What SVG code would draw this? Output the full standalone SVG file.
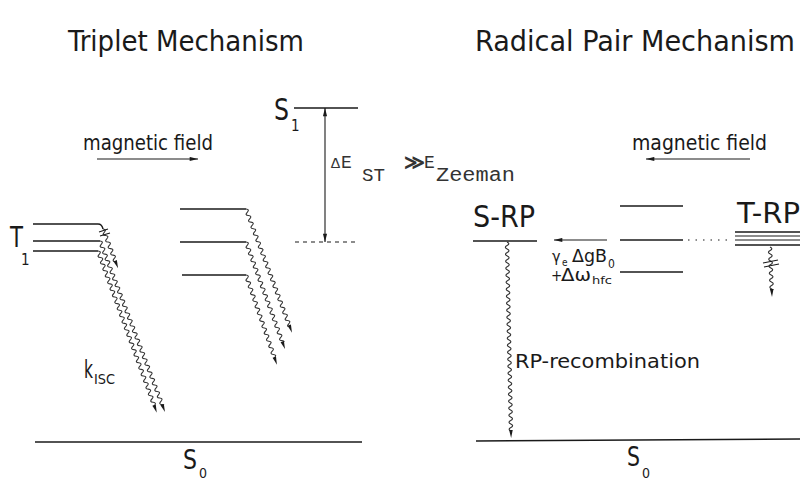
<svg xmlns="http://www.w3.org/2000/svg" xmlns:xlink="http://www.w3.org/1999/xlink" width="800" height="483" viewBox="0 0 800 483">
<style>
.bg{fill:#fff}
.lv{stroke:#1a1a1a;stroke-width:1.4;fill:none}
.ln{stroke:#1a1a1a;stroke-width:1.1;fill:none}
.wv{stroke:#333;stroke-width:1.1;fill:none}
.tip{fill:#1a1a1a}
.t{font-family:"DejaVu Sans Condensed","DejaVu Sans","Liberation Sans",sans-serif;fill:#1a1a1a}
.m{font-family:"Liberation Mono","DejaVu Sans Mono",monospace;fill:#333}
</style>
<defs>
<path id="wave" d="M0,0 q3.6,1.75 0,3.5 t0,3.5 0,3.5 0,3.5 0,3.5 0,3.5 0,3.5 0,3.5 0,3.5 0,3.5 0,3.5 0,3.5 0,3.5 0,3.5 0,3.5 0,3.5 0,3.5 0,3.5 0,3.5 0,3.5 0,3.5 0,3.5 0,3.5 0,3.5 0,3.5 0,3.5 0,3.5 0,3.5 0,3.5 0,3.5 0,3.5 0,3.5 0,3.5 0,3.5 0,3.5 0,3.5 0,3.5 0,3.5 0,3.5 0,3.5 0,3.5 0,3.5 0,3.5 0,3.5 0,3.5 0,3.5 0,3.5 0,3.5 0,3.5 0,3.5 0,3.5 0,3.5 0,3.5 0,3.5 0,3.5 0,3.5 0,3.5 0,3.5 0,3.5 0,3.5 0,3.5"/>
<path id="tip" d="M0,0 L-1.8,-8 L1.8,-8 Z"/>
<clipPath id="c42"><rect x="-6" y="-1" width="12" height="36"/></clipPath>
<clipPath id="c50"><rect x="-6" y="-1" width="12" height="44"/></clipPath>
<clipPath id="c95"><rect x="-6" y="-1" width="12" height="89"/></clipPath>
<clipPath id="c114"><rect x="-6" y="-1" width="12" height="108"/></clipPath>
<clipPath id="c132"><rect x="-6" y="-1" width="12" height="126"/></clipPath>
<clipPath id="c172"><rect x="-6" y="-1" width="12" height="166"/></clipPath>
<clipPath id="c183"><rect x="-6" y="-1" width="12" height="177"/></clipPath>
<clipPath id="c196"><rect x="-6" y="-1" width="12" height="190"/></clipPath>
<marker id="ar" viewBox="0 0 10 6" refX="10" refY="3" markerWidth="9" markerHeight="5" orient="auto-start-reverse" markerUnits="userSpaceOnUse"><path d="M0,0.5 L10,3 L0,5.5 Z" fill="#1a1a1a"/></marker>
</defs>
<rect class="bg" x="0" y="0" width="800" height="483"/>

<g id="titles">
<text class="t" x="68" y="51" font-size="28" textLength="236" lengthAdjust="spacingAndGlyphs">Triplet Mechanism</text>
<text class="t" x="475" y="51" font-size="28" textLength="320" lengthAdjust="spacingAndGlyphs">Radical Pair Mechanism</text>
</g>

<g id="field-left">
<text class="t" x="83" y="150" font-size="21" textLength="130" lengthAdjust="spacingAndGlyphs">magnetic field</text>
<line class="ln" x1="97" y1="159" x2="198" y2="159" marker-end="url(#ar)"/>
</g>
<g id="field-right">
<text class="t" x="632" y="150" font-size="21" textLength="135" lengthAdjust="spacingAndGlyphs">magnetic field</text>
<line class="ln" x1="750" y1="159" x2="646" y2="159" marker-end="url(#ar)"/>
</g>

<g id="T1">
<text class="t" x="10" y="247" font-size="29" textLength="13" lengthAdjust="spacingAndGlyphs">T</text>
<text class="t" x="21" y="265" font-size="15">1</text>
<path class="lv" d="M33,224 H98 q4,0 5,5"/>
<path class="lv" d="M33,241 H100"/>
<path class="lv" d="M33,251 H98"/>
</g>

<g id="triplet-mid">
<path class="lv" d="M180,209 H246"/>
<path class="lv" d="M180,242 H246"/>
<path class="lv" d="M182,275 H246"/>
</g>

<g id="S1">
<text class="t" x="274" y="120" font-size="30" textLength="15" lengthAdjust="spacingAndGlyphs">S</text>
<text class="t" x="291" y="131" font-size="15">1</text>
<path class="lv" d="M294,108 H358"/>
<path class="ln" d="M295,242 H358" stroke-dasharray="4 4"/>
</g>

<g id="S0-left">
<path class="lv" d="M35,442 H362"/>
<text class="t" x="183" y="469" font-size="26" textLength="14" lengthAdjust="spacingAndGlyphs">S</text>
<text class="t" x="199" y="478" font-size="14">0</text>
</g>

<g id="kisc">
<text class="t" x="84" y="378" font-size="24" textLength="9" lengthAdjust="spacingAndGlyphs">k</text>
<text class="t" x="94" y="384" font-size="14" textLength="21" lengthAdjust="spacingAndGlyphs">ISC</text>
</g>

<g id="gap-label">
<text class="m" x="331" y="168" font-size="15">Δ</text>
<text class="m" x="341" y="168" font-size="18">E</text>
<text class="m" x="362" y="181" font-size="19" textLength="23" lengthAdjust="spacingAndGlyphs">ST</text>
<text class="m" x="404" y="169" font-size="20" font-weight="bold">≫</text>
<text class="m" x="424" y="168" font-size="18">E</text>
<text class="m" x="436" y="181" font-size="20" textLength="79" lengthAdjust="spacingAndGlyphs">Zeeman</text>
</g>

<g id="SRP">
<text class="t" x="473" y="227" font-size="30" textLength="62" lengthAdjust="spacingAndGlyphs">S-RP</text>
<path class="lv" d="M473,241 H537"/>
</g>

<g id="rp-mid">
<path class="lv" d="M620,206 H683"/>
<path class="lv" d="M620,240 H683"/>
<path class="lv" d="M620,272 H683"/>
<path class="ln" d="M688,240 H732" stroke-dasharray="1.5 6"/>
<line class="ln" x1="607" y1="240" x2="554" y2="240" marker-end="url(#ar)"/>
<text class="t" x="552" y="262" font-size="16">γ</text>
<text class="t" x="562" y="266" font-size="10">e</text>
<text class="t" x="572" y="262" font-size="17" textLength="35" lengthAdjust="spacingAndGlyphs">ΔgB</text>
<text class="t" x="608" y="268" font-size="12">0</text>
<text class="t" x="551" y="281" font-size="15">+</text>
<text class="t" x="561" y="281" font-size="17" textLength="30" lengthAdjust="spacingAndGlyphs">Δω</text>
<text class="t" x="592" y="284" font-size="11" textLength="20" lengthAdjust="spacingAndGlyphs">hfc</text>
</g>

<g id="TRP">
<text class="t" x="737" y="223" font-size="29" textLength="63" lengthAdjust="spacingAndGlyphs">T-RP</text>
<path class="lv" d="M735,232 H800"/>
<path class="ln" d="M735,236 H800"/>
<path class="ln" d="M735,240 H800"/>
<path class="lv" d="M735,245 H800"/>
</g>

<g id="S0-right">
<path class="lv" d="M476,441 L800,439"/>
<text class="t" x="627" y="466" font-size="26" textLength="13" lengthAdjust="spacingAndGlyphs">S</text>
<text class="t" x="642" y="478" font-size="14">0</text>
</g>

<g id="rp-rec-label">
<text class="t" x="515" y="368" font-size="19" textLength="185" lengthAdjust="spacingAndGlyphs">RP-recombination</text>
</g>

<g id="connectors">
<line class="ln" x1="325" y1="108" x2="325" y2="242" marker-start="url(#ar)" marker-end="url(#ar)"/>
<g transform="translate(103,229) rotate(-21)"><use href="#wave" class="wv" clip-path="url(#c42)"/><use href="#tip" class="tip" y="42"/></g>
<path class="ln" d="M99,232 L108,229 M100,236 L110,233"/>
<g transform="translate(100,241) rotate(-20.8)"><use href="#wave" class="wv" clip-path="url(#c183)"/><use href="#tip" class="tip" y="183"/></g>
<g transform="translate(98,251) rotate(-20)"><use href="#wave" class="wv" clip-path="url(#c172)"/><use href="#tip" class="tip" y="172"/></g>
<g transform="translate(246,209) rotate(-20.4)"><use href="#wave" class="wv" clip-path="url(#c132)"/><use href="#tip" class="tip" y="132"/></g>
<g transform="translate(246,242) rotate(-20)"><use href="#wave" class="wv" clip-path="url(#c114)"/><use href="#tip" class="tip" y="114"/></g>
<g transform="translate(246,275) rotate(-19)"><use href="#wave" class="wv" clip-path="url(#c95)"/><use href="#tip" class="tip" y="95"/></g>
<g transform="translate(507,242) rotate(-1.2)"><use href="#wave" class="wv" clip-path="url(#c196)"/><use href="#tip" class="tip" y="196"/></g>
<g transform="translate(770,247) rotate(-2.3)"><use href="#wave" class="wv" clip-path="url(#c50)"/><use href="#tip" class="tip" y="50"/></g>
<path class="ln" d="M763,263 L778,260 M764,267 L779,264"/>
</g>
</svg>
